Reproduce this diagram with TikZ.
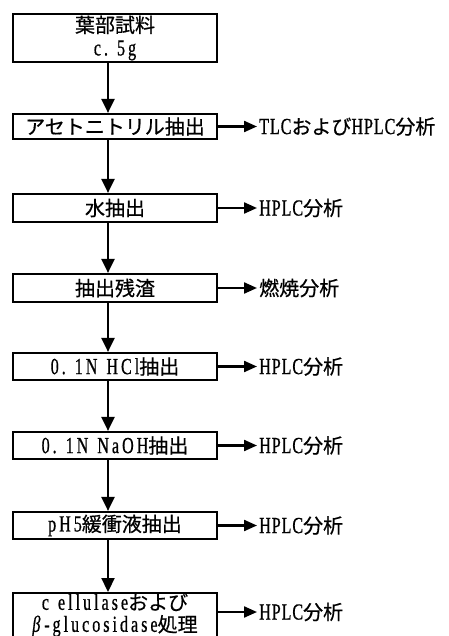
\documentclass[tikz,border=0pt]{standalone}
\usepackage{fontspec}
\setmainfont{Liberation Serif}[FakeStretch=0.7,Scale=1.15,FakeBold=0.6,LetterSpace=4]
\newfontfamily\lw{Liberation Serif}[FakeStretch=0.7,Scale=1.15,FakeBold=0.6,LetterSpace=13]
\newfontfamily\jp{Noto Sans CJK JP}[FakeBold=0.6]
\usetikzlibrary{arrows.meta}
\newcommand\J[1]{{\jp #1}}
\newcommand\W[1]{{\lw #1}}
\newcommand\gap{\kern 9pt}
\begin{document}
\begin{tikzpicture}[x=1pt,y=-1pt,
  box/.style={draw, line width=2.2pt, minimum width=204pt, inner sep=0pt, align=center,
    font=\fontsize{20}{23}\selectfont},
  lab/.style={anchor=west, inner sep=0pt, inner xsep=2pt, font=\fontsize{20}{24}\selectfont},
  varr/.style={line width=2.2pt, -{Triangle[width=13pt,length=14pt]}},
  harr/.style={line width=2.2pt, -{Triangle[width=11pt,length=13pt]}}]
\useasboundingbox (0,0) rectangle (448,636);
\coordinate (ax) at (108,0);
\node[box, minimum height=48pt] (b1) at (115,38) {\J{葉部試料}\\\W{c.}\gap\W{5g}};
\node[box, minimum height=25pt] (b2) at (115,126.5) {\J{アセトニトリル抽出}};
\node[box, minimum height=28pt] (b3) at (115,208) {\J{水抽出}};
\node[box, minimum height=28pt] (b4) at (115,288) {\J{抽出残渣}};
\node[box, minimum height=27pt] (b5) at (115,366.5) {\W{0.}\gap\W{1N}\gap\W{HCl}\J{抽出}};
\node[box, minimum height=27pt] (b6) at (115,445.5) {\W{0.}\gap\W{1N}\gap\W{NaOH}\J{抽出}};
\node[box, minimum height=27pt] (b7) at (115,525.5) {\W{pH5}\J{緩衝液抽出}};
\begin{scope}
\clip (0,0) rectangle (448,636);
\node[box, minimum height=44pt, anchor=north, font=\fontsize{20}{22}\selectfont] (b8) at (115,592)
  {\W{c}\gap\W{ellulase}\J{および}\\\W{{\itshape β}\,-glucosidase}\J{処理}};
\end{scope}
\node[lab] (l2) at (257,126.5) {TLC\J{および}HPLC\J{分析}};
\node[lab] (l3) at (257,208) {HPLC\J{分析}};
\node[lab] (l4) at (257,288) {\J{燃焼分析}};
\node[lab] (l5) at (257,366.5) {HPLC\J{分析}};
\node[lab] (l6) at (257,445.5) {HPLC\J{分析}};
\node[lab] (l7) at (257,525.5) {HPLC\J{分析}};
\node[lab] (l8) at (257,612) {HPLC\J{分析}};
\draw[varr] (b1.south -| ax) -- (b2.north -| ax);
\draw[varr] (b2.south -| ax) -- (b3.north -| ax);
\draw[varr] (b3.south -| ax) -- (b4.north -| ax);
\draw[varr] (b4.south -| ax) -- (b5.north -| ax);
\draw[varr] (b5.south -| ax) -- (b6.north -| ax);
\draw[varr] (b6.south -| ax) -- (b7.north -| ax);
\draw[varr] (b7.south -| ax) -- (b8.north -| ax);
\draw[harr] (b2.east) -- (l2.west);
\draw[harr] (b3.east) -- (l3.west);
\draw[harr] (b4.east) -- (l4.west);
\draw[harr] (b5.east) -- (l5.west);
\draw[harr] (b6.east) -- (l6.west);
\draw[harr] (b7.east) -- (l7.west);
\draw[harr] (b8.east |- l8.west) -- (l8.west);
\end{tikzpicture}
\end{document}
